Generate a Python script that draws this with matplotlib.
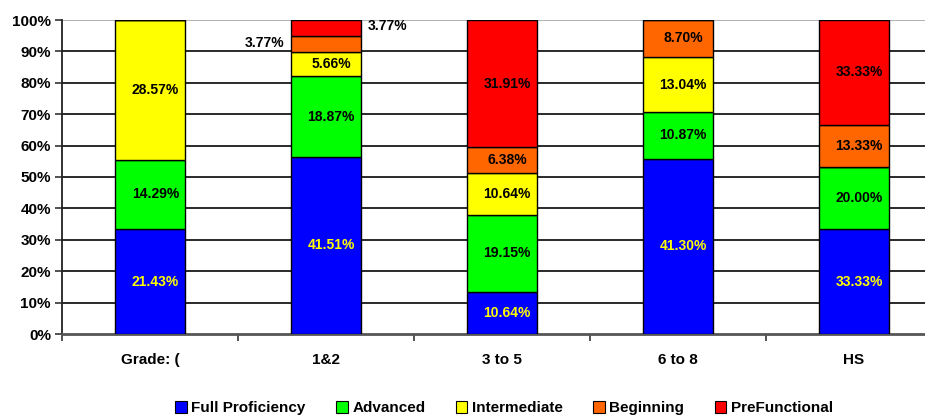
import matplotlib
matplotlib.use("Agg")
import matplotlib.pyplot as plt
import numpy as np
from matplotlib.patches import Patch

plt.rcParams['font.family'] = ['Liberation Sans Narrow', 'Liberation Sans', 'DejaVu Sans']

# grade bands and the share of students at each level
grades = ['Grade: (', '1&2', '3 to 5', '6 to 8', 'HS']
levels = ['Full Proficiency', 'Advanced', 'Intermediate', 'Beginning', 'PreFunctional']
full_prof = [21.43, 41.51, 10.64, 41.30, 33.33]
advanced = [14.29, 18.87, 19.15, 10.87, 20.00]
intermediate = [28.57, 5.66, 10.64, 13.04, 0.0]
beginning = [0.0, 3.77, 6.38, 8.70, 13.33]
prefunctional = [0.0, 3.77, 31.91, 0.0, 33.33]

colors = ['#0000FF', '#00FF00', '#FFFF00', '#FF6600', '#FF0000']
text_colors = ['#FFFF00', 'black', 'black', 'black', 'black']

series = np.array([full_prof, advanced, intermediate, beginning, prefunctional])
# 100% stacked: each column scaled to its own total
shares = series / series.sum(axis=0) * 100

fig = plt.figure(figsize=(9.25, 4.2), dpi=100)
ax = fig.add_axes([62 / 925, 86 / 420, 880 / 925, 314 / 420])

x = np.arange(len(grades))
bottom = np.zeros(len(grades))
for i in range(len(levels)):
    ax.bar(x, shares[i], 0.4, bottom=bottom, color=colors[i],
           edgecolor='black', linewidth=1.0, zorder=3)
    for j in range(len(grades)):
        v = series[i][j]
        if v <= 0:
            continue
        cy = bottom[j] + shares[i][j] / 2
        cx = x[j] + 0.03
        if grades[j] == '1&2' and levels[i] == 'Beginning':
            cx, cy = x[j] - 0.35, cy + 0.5
        elif grades[j] == '1&2' and levels[i] == 'PreFunctional':
            cx, cy = x[j] + 0.35, cy + 0.5
        ax.text(cx, cy, '%.2f%%' % v, ha='center', va='center',
                fontsize=10, fontweight='bold', color=text_colors[i], zorder=4)
    bottom += shares[i]

ax.set_xlim(-0.5, 4.5)
ax.set_ylim(0, 100)
ax.set_yticks(np.arange(0, 101, 10))
ax.set_yticklabels(['%d%%' % v for v in range(0, 101, 10)],
                   fontsize=11, fontweight='bold')
ax.set_xticks(x)
ax.set_xticklabels(grades, fontsize=11, fontweight='bold')
ax.set_xticks(np.arange(-0.5, 4.6, 1), minor=True)
ax.tick_params(axis='x', which='major', length=0, pad=14)
ax.tick_params(axis='x', which='minor', length=5, width=1.2, direction='out', color='#333333')
ax.tick_params(axis='y', length=5, width=1.2, color='#333333', pad=3)

for yv in range(10, 100, 10):
    ax.axhline(yv, color='#2a2a2a', linewidth=1.4, zorder=1)
ax.axhline(100, color='#aaaaaa', linewidth=1.3, zorder=1)

for s in ['top', 'right']:
    ax.spines[s].set_visible(False)
ax.spines['left'].set_color('#222222')
ax.spines['left'].set_linewidth(1.3)
ax.spines['bottom'].set_color('#555555')
ax.spines['bottom'].set_linewidth(2)

handles = [Patch(facecolor=c, edgecolor='black', linewidth=0.8) for c in colors]
fig.legend(handles, levels, loc='center', bbox_to_anchor=(0.545, 0.028), ncol=5,
           frameon=False, prop={'size': 11, 'weight': 'bold'},
           handlelength=0.75, handleheight=0.75, handletextpad=0.3, columnspacing=2.0)

fig.savefig('out.png', dpi=100)
